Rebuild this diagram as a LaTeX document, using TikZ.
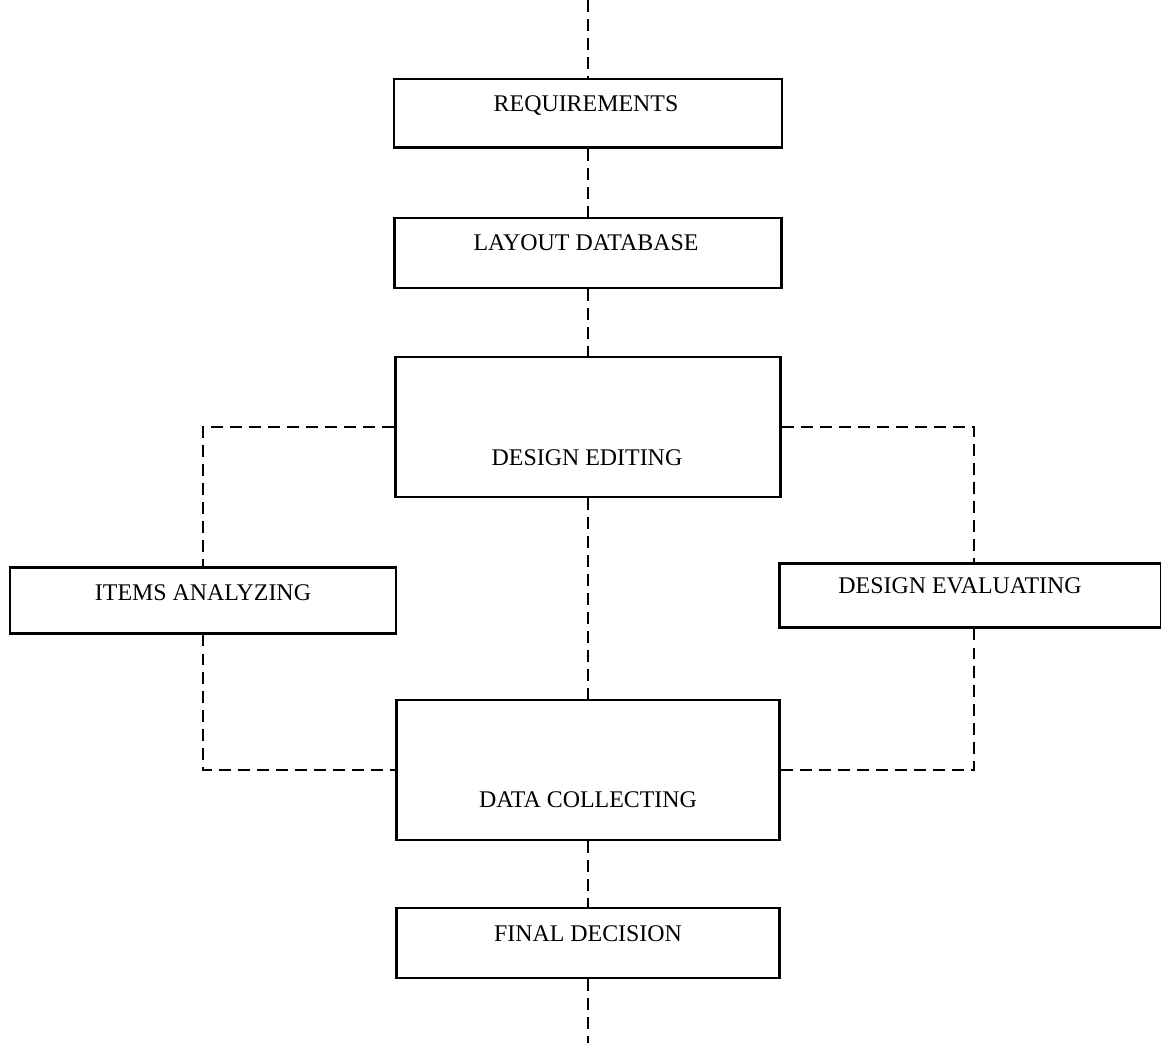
\documentclass[tikz,border=0pt]{standalone}
\usepackage{fontspec}
\setmainfont{Liberation Serif}

\begin{document}
\begin{tikzpicture}[
            x=0.025cm, y=-0.025cm,
            stage/.style={
              draw,
              line width=2pt,
              rectangle,
              inner sep=0pt,
            },
            caption/.style={
              inner sep=0pt,
              text height=11pt,
              text depth=0pt,
              font=\fontsize{17}{20}\selectfont,
            },
            link/.style={
              line width=1.5pt,
              dash pattern=on 8.5pt off 5pt,
            },
          ]
          \useasboundingbox (0,0) rectangle (1161,1043) ;
          % boxes
          \node[stage, minimum width=9.7cm, minimum height=1.72cm] at (588,113.5) (req) {} ;
          \node[stage, minimum width=9.68cm, minimum height=1.75cm] at (588,253) (layout) {} ;
          \node[stage, minimum width=9.63cm, minimum height=3.5cm] at (588,427) (edit) {} ;
          \node[stage, minimum width=9.65cm, minimum height=1.63cm] at (203,600.5) (items) {} ;
          \node[stage, minimum width=9.53cm, minimum height=1.58cm] at (970.5,595.5) (eval) {} ;
          \node[stage, minimum width=9.58cm, minimum height=3.5cm] at (588,770) (data) {} ;
          \node[stage, minimum width=9.58cm, minimum height=1.75cm] at (588,943) (final) {} ;
          % captions
          \node[caption] at (586,104) (req-t) {REQUIREMENTS} ;
          \node[caption] at (586,243) (layout-t) {LAYOUT DATABASE} ;
          \node[caption] at (587,458) (edit-t) {DESIGN EDITING} ;
          \node[caption] at (203,593) (items-t) {ITEMS ANALYZING} ;
          \node[caption] at (960,586) (eval-t) {DESIGN EVALUATING} ;
          \node[caption] at (588,800) (data-t) {DATA COLLECTING} ;
          \node[caption] at (588,934) (final-t) {FINAL DECISION} ;
          % links
          \coordinate (in) at (588,0) ;
          \coordinate (out) at (588,1043) ;
          \draw[link] (in)--(req.north) ;
          \draw[link] (req.south)--(layout.north) ;
          \draw[link] (layout.south)--(edit.north) ;
          \draw[link] (edit.south)--(data.north) ;
          \draw[link] (data.south)--(final.north) ;
          \draw[link] (final.south)--(out) ;
          \draw[link] (edit.west) -| (items.north) ;
          \draw[link] (items.south) |- (data.west) ;
          \draw[link] (edit.east) -| ([xshift=2.5]eval.north) ;
          \draw[link] ([xshift=2.5]eval.south) |- (data.east) ;
          \end{tikzpicture}
\end{document}
